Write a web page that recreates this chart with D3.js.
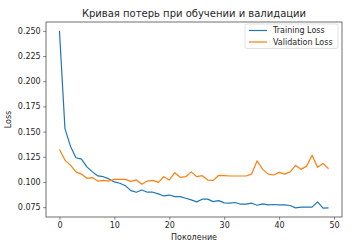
<!DOCTYPE html>
<html>
<head>
<meta charset="utf-8">
<script src="https://cdn.jsdelivr.net/npm/d3@7"></script>
<style>
  body { margin: 0; background: #fff; }
  svg text { font-family: "DejaVu Sans", sans-serif; fill: #262626; }
</style>
</head>
<body>
<div id="chart"></div>
<script>
const epochs = d3.range(0, 50);
const trainLoss = [
  0.250, 0.153, 0.1355, 0.124, 0.1227, 0.115, 0.110, 0.106, 0.1052, 0.103,
  0.100, 0.0987, 0.0963, 0.0914, 0.0898, 0.092, 0.0898, 0.0898, 0.0881, 0.0861,
  0.087, 0.0855, 0.0855, 0.0838, 0.0822, 0.0802, 0.0829, 0.0829, 0.0805, 0.0815,
  0.0792, 0.0789, 0.0796, 0.0779, 0.0779, 0.0789, 0.0769, 0.0782, 0.0772, 0.0776,
  0.0772, 0.0772, 0.0766, 0.0743, 0.075, 0.075, 0.075, 0.0802, 0.074, 0.0743
];
const valLoss = [
  0.1322, 0.1217, 0.1167, 0.110, 0.1078, 0.1036, 0.1042, 0.1009, 0.1016, 0.1009,
  0.1026, 0.1026, 0.1026, 0.1006, 0.102, 0.0977, 0.1009, 0.1016, 0.0996, 0.1052,
  0.102, 0.1092, 0.1046, 0.1052, 0.110, 0.1052, 0.1062, 0.1019, 0.1016, 0.1066,
  0.1062, 0.1059, 0.1059, 0.1059, 0.1059, 0.1078, 0.121, 0.1125, 0.1078, 0.1069,
  0.1095, 0.1078, 0.110, 0.1164, 0.1125, 0.1157, 0.1266, 0.1145, 0.1184, 0.1131
];
const xTicks = [0, 10, 20, 30, 40, 50];
const yTicks = [0.075, 0.100, 0.125, 0.150, 0.175, 0.200, 0.225, 0.250];
const seriesNames = ["Training Loss", "Validation Loss"];
const colors = ["#1f77b4", "#ff7f0e"];

const W = 357, H = 249;
const margin = { top: 22, right: 15, bottom: 32, left: 46 },
      width = W - margin.left - margin.right,
      height = H - margin.top - margin.bottom;

const svg = d3.select("#chart").append("svg")
    .attr("width", W)
    .attr("height", H);

const g = svg.append("g")
    .attr("transform", "translate(" + margin.left + "," + margin.top + ")");

// matplotlib style 5% margins
const allVals = trainLoss.concat(valLoss);
const yMin = d3.min(allVals), yMax = d3.max(allVals);
const yPad = (yMax - yMin) * 0.05;
const xPad = 49 * 0.05;

const x = d3.scaleLinear().domain([0 - xPad, 49 + xPad]).range([0, width]);
const y = d3.scaleLinear().domain([yMin - yPad, yMax + yPad]).range([height, 0]);

const line = d3.line()
    .x((d, i) => x(epochs[i]))
    .y(d => y(d));

[trainLoss, valLoss].forEach((s, i) => {
  g.append("path")
    .datum(s)
    .attr("fill", "none")
    .attr("stroke", colors[i])
    .attr("stroke-width", 1.2)
    .attr("stroke-linejoin", "round")
    .attr("d", line);
});

// axes
const xAxis = g.append("g")
    .attr("transform", "translate(0," + height + ")")
    .call(d3.axisBottom(x).tickValues(xTicks).tickSize(2.8).tickPadding(2.5).tickFormat(d3.format("d")));
const yAxis = g.append("g")
    .call(d3.axisLeft(y).tickValues(yTicks).tickSize(2.8).tickPadding(2.5).tickFormat(d3.format(".3f")));

[xAxis, yAxis].forEach(a => {
  a.select(".domain").remove();
  a.selectAll(".tick line").attr("stroke", "#333").attr("stroke-width", 0.6);
  a.selectAll(".tick text").style("font-size", "8px").attr("fill", "#262626");
});

// frame
g.append("rect")
    .attr("width", width)
    .attr("height", height)
    .attr("fill", "none")
    .attr("stroke", "#333")
    .attr("stroke-width", 0.7);

// title
svg.append("text")
    .attr("x", margin.left + width / 2)
    .attr("y", 16.5)
    .attr("text-anchor", "middle")
    .style("font-size", "10px")
    .text("Кривая потерь при обучении и валидации");

// X axis label
svg.append("text")
    .attr("x", margin.left + width / 2)
    .attr("y", 240)
    .attr("text-anchor", "middle")
    .style("font-size", "8px")
    .text("Поколение");

// Y axis label
svg.append("text")
    .attr("transform", "rotate(-90)")
    .attr("x", -(margin.top + height / 2))
    .attr("y", 11)
    .attr("text-anchor", "middle")
    .style("font-size", "8px")
    .text("Loss");

// legend
const legend = svg.append("g").attr("transform", "translate(245,24)");
legend.append("rect")
    .attr("width", 93)
    .attr("height", 24.5)
    .attr("rx", 2)
    .attr("fill", "#fff")
    .attr("fill-opacity", 0.8)
    .attr("stroke", "#ccc")
    .attr("stroke-width", 0.6);
seriesNames.forEach((name, i) => {
  const yy = 6.5 + i * 11.5;
  legend.append("line")
    .attr("x1", 4).attr("x2", 22)
    .attr("y1", yy).attr("y2", yy)
    .attr("stroke", colors[i])
    .attr("stroke-width", 1.2);
  legend.append("text")
    .attr("x", 28)
    .attr("y", yy + 2.8)
    .style("font-size", "8px")
    .text(name);
});
</script>
</body>
</html>
